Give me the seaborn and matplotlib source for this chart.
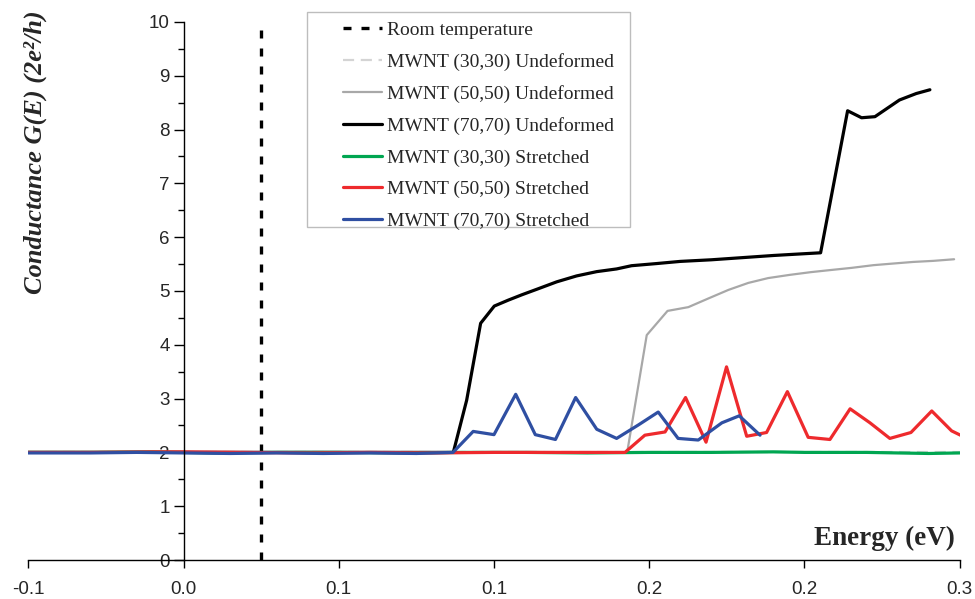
import matplotlib
matplotlib.use("Agg")
import matplotlib.pyplot as plt
from matplotlib.lines import Line2D
from matplotlib.patches import Rectangle
import seaborn as sns
import pandas as pd

# ---------------- data ----------------
x_ticks = [-0.05, 0.0, 0.05, 0.10, 0.15, 0.20, 0.25]
x_tick_labels = ["-0.1", "0.0", "0.1", "0.1", "0.2", "0.2", "0.3"]
y_ticks = [0, 1, 2, 3, 4, 5, 6, 7, 8, 9, 10]

room_temp_e = [0.025, 0.025]
room_temp_g = [0.0, 9.85]

e_30u = [-0.05, 0.0, 0.05, 0.10, 0.15, 0.20, 0.25]
g_30u = [2.0, 2.0, 2.0, 2.0, 2.0, 2.0, 2.0]

e_50u = [-0.05, -0.03, -0.01, 0.01, 0.03, 0.05, 0.07, 0.09, 0.11, 0.13, 0.1429,
         0.1492, 0.1559, 0.1626, 0.1690, 0.1755, 0.1819, 0.1883, 0.1953, 0.2020,
         0.2085, 0.2152, 0.2222, 0.2285, 0.2350, 0.2415, 0.2482]
g_50u = [2.0, 2.0, 2.0, 2.0, 2.0, 2.0, 2.0, 2.0, 2.0, 2.0, 2.0,
         4.18, 4.63, 4.70, 4.86, 5.02, 5.15, 5.24, 5.30, 5.35,
         5.39, 5.43, 5.48, 5.51, 5.54, 5.56, 5.59]

e_70u = [-0.05, -0.03, -0.01, 0.01, 0.03, 0.05, 0.07, 0.0869, 0.0912, 0.0957,
         0.1001, 0.1046, 0.1090, 0.1137, 0.1202, 0.1266, 0.1331, 0.1395, 0.1443,
         0.1524, 0.1600, 0.1700, 0.1800, 0.1900, 0.1960, 0.2052, 0.2139, 0.2184,
         0.2227, 0.2306, 0.2360, 0.2404]
g_70u = [2.0, 2.0, 2.0, 2.0, 2.0, 2.0, 2.0, 2.0, 2.97, 4.40,
         4.72, 4.83, 4.93, 5.03, 5.17, 5.28, 5.36, 5.41, 5.47,
         5.51, 5.55, 5.58, 5.62, 5.66, 5.68, 5.71, 8.35, 8.22,
         8.24, 8.55, 8.67, 8.74]

e_30s = [-0.05, -0.03, -0.01, 0.01, 0.03, 0.05, 0.07, 0.09, 0.11, 0.13, 0.15,
         0.17, 0.19, 0.20, 0.21, 0.22, 0.23, 0.24, 0.25]
g_30s = [2.0, 2.0, 2.01, 1.99, 2.0, 2.0, 1.99, 2.0, 2.0, 1.99, 2.0,
         2.0, 2.01, 2.0, 2.0, 2.0, 1.99, 1.98, 1.99]

e_50s = [-0.05, -0.03, -0.01, 0.0, 0.02, 0.04, 0.06, 0.08, 0.10, 0.12, 0.1422,
         0.1486, 0.1551, 0.1617, 0.1683, 0.1749, 0.1814, 0.1878, 0.1945, 0.2012,
         0.2082, 0.2147, 0.2211, 0.2275, 0.2343, 0.2410, 0.2474, 0.2506]
g_50s = [2.0, 2.0, 2.01, 2.01, 2.0, 1.99, 2.0, 1.99, 2.0, 2.0, 2.0,
         2.32, 2.38, 3.02, 2.19, 3.59, 2.30, 2.37, 3.13, 2.28,
         2.24, 2.81, 2.55, 2.26, 2.37, 2.77, 2.40, 2.31]

e_70s = [-0.05, -0.03, -0.015, 0.0, 0.015, 0.03, 0.045, 0.06, 0.075, 0.0868,
         0.0933, 0.1000, 0.1070, 0.1133, 0.1198, 0.1263, 0.1331, 0.1395, 0.1465,
         0.1529, 0.1593, 0.1658, 0.1734, 0.1790, 0.1857]
g_70s = [1.99, 1.99, 2.0, 1.99, 1.98, 1.99, 1.98, 1.99, 1.98, 2.0,
         2.39, 2.33, 3.08, 2.33, 2.24, 3.02, 2.43, 2.26, 2.51,
         2.75, 2.26, 2.23, 2.55, 2.68, 2.32]

labels = ["Room temperature",
          "MWNT (30,30) Undeformed",
          "MWNT (50,50) Undeformed",
          "MWNT (70,70) Undeformed",
          "MWNT (30,30) Stretched",
          "MWNT (50,50) Stretched",
          "MWNT (70,70) Stretched"]

# ---------------- style ----------------
sns.set_theme(style="white")
plt.rcParams["font.family"] = ["Liberation Sans", "DejaVu Sans"]

fig = plt.figure(figsize=(9.75, 5.99), dpi=100)
ax = fig.add_axes([0.029, 0.0651, 0.9553, 0.8982])

series = [
    (room_temp_e, room_temp_g, dict(color="black", lw=2.4, dashes=(2.4, 3.0))),
    (e_30u, g_30u, dict(color="#d4d4d4", lw=1.6, dashes=(5, 3))),
    (e_50u, g_50u, dict(color="#a8a8a8", lw=1.6)),
    (e_70u, g_70u, dict(color="black", lw=2.3)),
    (e_30s, g_30s, dict(color="#00a651", lw=2.3)),
    (e_50s, g_50s, dict(color="#ee2a2d", lw=2.3)),
    (e_70s, g_70s, dict(color="#2f4fa2", lw=2.3)),
]

handles = []
for (xe, yg, st), lab in zip(series, labels):
    df = pd.DataFrame({"E": xe, "G": yg})
    sns.lineplot(data=df, x="E", y="G", ax=ax, estimator=None, sort=False,
                 legend=False, color=st["color"], linewidth=st["lw"])
    line = ax.get_lines()[-1]
    if "dashes" in st:
        line.set_dashes(st["dashes"])
    h = Line2D([0], [0], color=st["color"], linewidth=st["lw"])
    if "dashes" in st:
        h.set_dashes(st["dashes"])
    handles.append(h)

ax.set_xlim(-0.05, 0.25)
ax.set_ylim(0, 10)
ax.set_xlabel("")
ax.set_ylabel("")

for s in ["top", "right"]:
    ax.spines[s].set_visible(False)
ax.spines["left"].set_position(("data", 0))
for s in ["left", "bottom"]:
    ax.spines[s].set_linewidth(1.0)
    ax.spines[s].set_color("black")

ax.set_xticks(x_ticks)
ax.set_xticklabels(x_tick_labels)
ax.set_yticks(y_ticks)
ax.set_yticklabels([str(v) for v in y_ticks])
ax.set_yticks([v + 0.5 for v in y_ticks[:-1]], minor=True)
ax.tick_params(axis="x", which="major", direction="out", length=6, width=1,
               pad=9, labelsize=13.5, bottom=True, color="black")
ax.tick_params(axis="y", which="major", direction="out", length=7, width=1,
               pad=3, labelsize=13.5, left=True, color="black")
ax.tick_params(axis="y", which="minor", direction="out", length=4, width=1,
               left=True, color="black")

# axis titles
fig.text(35 / 975, 1 - 152 / 599, "Conductance G(E) (2e²/h)", rotation=90,
         ha="center", va="center", fontfamily="Liberation Serif",
         fontweight="bold", fontstyle="italic", fontsize=19)
fig.text(955 / 975, 1 - 538 / 599, "Energy (eV)", ha="right", va="center",
         fontfamily="Liberation Serif", fontweight="bold", fontsize=19.5)

# legend
frame = Rectangle((306.7 / 975, 1 - 226.7 / 599), (630 - 306.7) / 975,
                  (226.7 - 11.7) / 599, transform=fig.transFigure,
                  facecolor="white", edgecolor="#bdbdbd", lw=1.0,
                  zorder=5, clip_on=False)
ax.add_patch(frame)
leg = ax.legend(handles, labels, loc="upper left",
                bbox_to_anchor=(343 / 975, 1 - 21.5 / 599),
                bbox_transform=fig.transFigure, frameon=False,
                prop={"family": "Liberation Serif", "size": 14},
                handlelength=2.0, handletextpad=0.28, labelspacing=0.72,
                borderpad=0.0, borderaxespad=0.0)
leg.set_zorder(6)

fig.savefig("out.png", dpi=100)
